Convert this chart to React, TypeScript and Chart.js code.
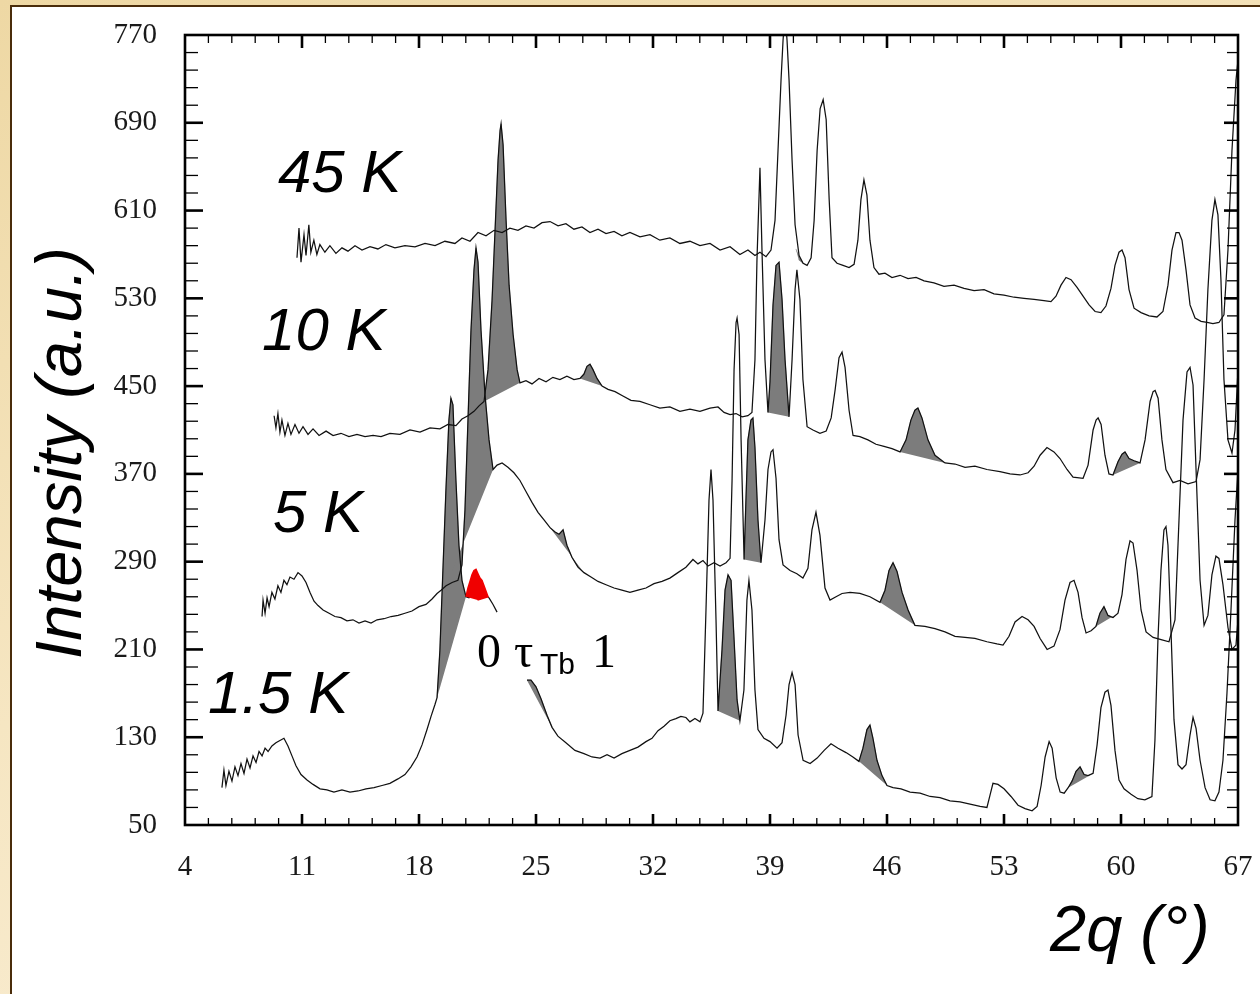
import React, { useEffect, useRef } from 'react';
import { Chart, registerables } from 'chart.js';

Chart.register(...registerables);

// ---------- axes ----------
const X_MIN = 4;
const X_MAX = 67;
const X_STEP = 7;
const Y_MIN = 50;
const Y_MAX = 770;
const Y_STEP = 80;
const MINOR_DIVISIONS = 5;

// ---------- series (2θ in degrees, intensity in a.u.) ----------
const CURVE_45K: [number, number][] = [
  [10.70,567],[10.82,594],[10.94,563],[11.12,588],[11.24,569],[11.41,597],[11.53,572],[11.71,583],[11.89,570],[12.07,579],
  [12.37,572],[12.67,578],[13.03,571],[13.39,576],[13.75,573],[14.17,578],[14.59,574],[15.07,577],[15.54,575],[16.02,579],
  [16.56,576],[17.16,578],[17.76,577],[18.36,580],[18.96,578],[19.55,582],[20.15,580],[20.57,585],[21.05,582],[21.53,590],
  [22.01,587],[22.49,592],[22.97,590],[23.44,594],[23.92,592],[24.40,596],[24.88,594],[25.36,599],[25.84,600],[26.32,596],
  [26.79,598],[27.27,593],[27.75,595],[28.23,590],[28.71,593],[29.19,589],[29.67,591],[30.14,587],[30.62,590],[31.22,586],
  [31.82,588],[32.41,583],[33.01,585],[33.61,580],[34.21,582],[34.81,578],[35.41,580],[36.01,574],[36.61,577],[37.20,570],
  [37.68,574],[38.10,569],[38.40,572],[38.76,568],[39.06,574],[39.30,601],[39.48,665],[39.66,729],[39.78,765],[39.90,790],
  [40.02,765],[40.14,729],[40.32,656],[40.50,597],[40.74,569],[40.98,562],[41.22,560],[41.46,567],[41.64,601],[41.82,665],
  [42.00,703],[42.18,711],[42.36,693],[42.54,620],[42.71,567],[43.01,562],[43.37,560],[43.73,558],[44.03,561],[44.26,583],
  [44.44,620],[44.62,638],[44.80,624],[44.98,583],[45.22,558],[45.52,552],[45.88,553],[46.30,549],[46.78,551],[47.26,548],
  [47.74,549],[48.22,546],[48.81,544],[49.41,541],[50.01,542],[50.61,539],[51.21,537],[51.81,538],[52.40,534],[53.00,533],
  [53.60,531],[54.20,530],[54.80,529],[55.39,528],[55.81,527],[56.11,532],[56.41,542],[56.71,549],[57.01,547],[57.37,540],
  [57.73,532],[58.09,524],[58.45,518],[58.80,517],[59.10,523],[59.40,539],[59.64,560],[59.88,572],[60.06,574],[60.24,567],
  [60.48,538],[60.78,521],[61.20,517],[61.68,514],[62.15,513],[62.51,518],[62.81,542],[63.05,574],[63.29,590],[63.47,590],
  [63.65,583],[63.89,556],[64.13,524],[64.43,512],[64.79,509],[65.15,508],[65.50,507],[65.86,508],[66.16,515],[66.40,574],
  [66.64,665],[66.88,729],[67.00,747],
];

const CURVE_10K: [number, number][] = [
  [9.33,423],[9.44,412],[9.56,425],[9.68,408],[9.80,419],[9.98,405],[10.16,416],[10.34,406],[10.58,415],[10.82,407],
  [11.06,413],[11.36,406],[11.66,411],[12.02,405],[12.44,409],[12.86,405],[13.33,407],[13.81,404],[14.29,406],[14.77,404],
  [15.25,405],[15.73,404],[16.26,407],[16.86,406],[17.46,410],[18.06,408],[18.66,412],[19.25,411],[19.73,415],[20.21,414],
  [20.57,420],[20.93,423],[21.29,427],[21.59,432],[21.89,436],[22.13,465],[22.37,528],[22.55,592],[22.73,656],[22.85,683],
  [22.91,689],[23.03,670],[23.21,601],[23.39,542],[23.63,497],[23.87,465],[24.04,453],[24.40,455],[24.76,452],[25.18,457],
  [25.60,454],[26.01,458],[26.43,456],[26.85,459],[27.27,456],[27.63,457],[27.87,461],[28.05,468],[28.23,470],[28.41,465],
  [28.65,457],[28.95,450],[29.31,447],[29.73,445],[30.20,441],[30.68,437],[31.22,436],[31.82,433],[32.41,430],[33.01,431],
  [33.61,427],[34.21,429],[34.81,427],[35.41,430],[35.89,431],[36.25,426],[36.61,424],[36.97,425],[37.33,422],[37.68,423],
  [37.92,426],[38.10,474],[38.22,565],[38.40,649],[38.52,574],[38.70,474],[38.88,426],[39.00,454],[39.18,524],[39.36,560],
  [39.54,563],[39.72,529],[39.90,474],[40.14,422],[40.32,474],[40.50,538],[40.61,556],[40.79,529],[40.97,456],[41.22,413],
  [41.57,410],[41.99,407],[42.36,409],[42.66,421],[42.90,447],[43.13,476],[43.31,481],[43.49,467],[43.73,428],[43.97,405],
  [44.38,404],[44.86,401],[45.34,397],[45.82,395],[46.30,393],[46.78,390],[47.14,401],[47.43,419],[47.67,428],[47.85,430],
  [48.09,421],[48.45,401],[48.87,387],[49.47,380],[50.07,379],[50.67,376],[51.26,377],[51.98,374],[52.76,372],[53.36,370],
  [53.96,369],[54.44,371],[54.80,377],[55.16,387],[55.57,394],[55.99,390],[56.35,384],[56.77,374],[57.13,367],[57.73,366],
  [58.03,378],[58.33,410],[58.51,419],[58.63,421],[58.81,415],[59.04,387],[59.28,370],[59.52,369],[59.82,381],[60.06,388],
  [60.24,390],[60.48,384],[60.78,382],[61.14,380],[61.44,401],[61.74,436],[61.92,445],[62.04,446],[62.22,439],[62.45,401],
  [62.69,374],[63.11,362],[63.53,364],[64.01,361],[64.49,363],[64.73,383],[64.97,456],[65.20,538],[65.44,601],[65.62,620],
  [65.80,606],[65.98,547],[66.16,456],[66.40,401],[66.64,389],[66.82,410],[67.00,465],
];

const CURVE_5K: [number, number][] = [
  [8.61,240],[8.67,255],[8.79,243],[8.91,257],[9.03,249],[9.20,262],[9.38,256],[9.56,268],[9.74,262],[9.92,273],
  [10.10,269],[10.28,276],[10.52,274],[10.76,280],[11.00,277],[11.24,271],[11.48,262],[11.72,254],[11.96,250],[12.26,246],
  [12.62,243],[12.97,240],[13.33,239],[13.69,236],[14.05,237],[14.41,234],[14.77,236],[15.13,234],[15.49,237],[15.91,238],
  [16.33,240],[16.75,241],[17.16,243],[17.58,245],[18.00,249],[18.42,251],[18.78,256],[19.08,261],[19.32,264],[19.62,268],
  [19.98,271],[20.33,273],[20.57,287],[20.75,337],[20.93,419],[21.11,501],[21.29,556],[21.41,576],[21.53,563],[21.71,501],
  [21.95,442],[22.19,401],[22.43,374],[22.67,378],[22.97,380],[23.32,376],[23.68,371],[24.04,364],[24.40,354],[24.76,344],
  [25.12,335],[25.48,328],[25.84,321],[26.14,317],[26.38,315],[26.62,319],[26.85,305],[27.15,294],[27.51,285],[27.87,280],
  [28.29,276],[28.71,272],[29.19,269],[29.67,266],[30.14,264],[30.62,262],[31.10,264],[31.58,266],[32.06,270],[32.54,272],
  [33.01,275],[33.49,280],[33.97,285],[34.39,292],[34.69,288],[34.99,291],[35.29,286],[35.65,289],[36.01,286],[36.37,289],
  [36.61,293],[36.73,364],[36.85,465],[36.97,508],[37.03,512],[37.15,497],[37.27,401],[37.45,292],[37.56,346],[37.68,401],
  [37.86,419],[37.98,421],[38.10,394],[38.28,328],[38.46,289],[38.70,328],[38.88,374],[39.06,390],[39.18,392],[39.36,366],
  [39.54,310],[39.78,287],[40.20,282],[40.61,279],[40.97,275],[41.27,284],[41.51,319],[41.75,335],[41.99,314],[42.29,266],
  [42.59,255],[42.95,258],[43.31,261],[43.79,262],[44.38,261],[44.98,258],[45.58,253],[45.88,264],[46.12,282],[46.36,289],
  [46.60,281],[46.90,262],[47.26,246],[47.67,232],[48.27,231],[48.87,229],[49.47,226],[50.07,222],[50.67,221],[51.26,220],
  [51.98,217],[52.58,215],[52.94,214],[53.30,222],[53.66,235],[54.08,240],[54.44,237],[54.80,231],[55.16,220],[55.58,210],
  [55.99,213],[56.35,228],[56.65,255],[56.95,271],[57.19,273],[57.43,262],[57.67,239],[57.91,225],[58.21,227],[58.50,231],
  [58.74,243],[58.98,249],[59.22,241],[59.52,239],[59.82,243],[60.06,260],[60.30,292],[60.54,309],[60.72,307],[60.96,282],
  [61.20,246],[61.50,226],[61.92,221],[62.40,219],[62.87,217],[63.23,237],[63.47,328],[63.71,419],[63.95,463],[64.13,467],
  [64.31,451],[64.49,374],[64.73,273],[64.97,232],[65.20,241],[65.44,278],[65.68,295],[65.86,293],[66.10,269],[66.40,230],
  [66.64,210],[66.88,214],[67.00,237],
];

// null marks the stretch hidden behind the annotation
const CURVE_1_5K: [number, number | null][] = [
  [6.21,84],[6.33,100],[6.45,86],[6.63,99],[6.81,90],[6.99,103],[7.17,95],[7.35,106],[7.53,97],[7.71,110],
  [7.89,102],[8.07,113],[8.25,107],[8.43,117],[8.61,113],[8.79,120],[8.97,117],[9.20,122],[9.44,125],[9.68,127],
  [9.92,129],[10.16,122],[10.40,113],[10.64,104],[10.94,96],[11.30,91],[11.66,87],[12.08,83],[12.49,82],[12.91,80],
  [13.39,82],[13.87,80],[14.35,81],[14.83,83],[15.31,84],[15.79,86],[16.26,88],[16.74,92],[17.16,96],[17.52,103],
  [17.88,112],[18.18,123],[18.48,137],[18.72,149],[18.96,160],[19.08,166],[19.25,209],[19.43,282],[19.61,355],[19.79,419],
  [19.91,439],[20.03,433],[20.21,364],[20.39,305],[20.57,273],[20.81,258],[20.99,257],[21.23,262],[21.47,264],[21.71,262],
  [21.95,260],[22.19,257],[22.43,251],[22.67,244],[23.50,null],[24.46,182],[24.70,182],[25.00,176],[25.30,165],[25.66,150],
  [25.96,139],[26.31,131],[26.79,125],[27.33,118],[27.87,115],[28.35,112],[28.83,111],[29.25,114],[29.67,111],[30.14,115],
  [30.62,118],[31.10,121],[31.58,126],[31.94,129],[32.30,136],[32.66,140],[33.01,145],[33.37,147],[33.67,149],[33.97,148],
  [34.21,144],[34.51,147],[34.81,144],[34.99,152],[35.17,246],[35.35,346],[35.47,374],[35.59,346],[35.77,237],[35.89,154],
  [36.13,210],[36.31,264],[36.49,278],[36.67,273],[36.85,219],[37.03,164],[37.20,145],[37.44,173],[37.62,255],[37.74,273],
  [37.92,246],[38.10,173],[38.28,137],[38.64,129],[39.00,126],[39.42,120],[39.72,125],[39.96,150],[40.14,178],[40.32,189],
  [40.50,178],[40.68,132],[40.98,109],[41.40,106],[41.82,111],[42.24,118],[42.65,124],[43.07,120],[43.55,116],[43.96,112],
  [44.32,108],[44.56,120],[44.80,137],[44.98,141],[45.16,129],[45.40,109],[45.70,95],[46.00,86],[46.36,84],[46.84,83],
  [47.38,80],[47.98,79],[48.58,76],[49.17,75],[49.77,72],[50.37,71],[50.97,69],[51.57,67],[51.98,66],[52.16,77],
  [52.34,88],[52.64,87],[53.00,83],[53.42,76],[53.84,68],[54.26,65],[54.68,63],[54.98,67],[55.22,86],[55.46,112],
  [55.70,126],[55.88,120],[56.12,93],[56.36,80],[56.60,79],[56.84,84],[57.07,90],[57.31,99],[57.55,103],[57.79,96],
  [58.03,95],[58.33,97],[58.57,123],[58.80,157],[59.04,171],[59.22,173],[59.40,159],[59.64,118],[59.88,91],[60.18,83],
  [60.60,78],[61.01,74],[61.43,73],[61.85,76],[62.03,127],[62.21,219],[62.39,282],[62.57,319],[62.69,322],[62.81,305],
  [62.99,228],[63.17,146],[63.41,105],[63.65,101],[63.89,105],[64.13,132],[64.31,148],[64.49,138],[64.73,109],[65.03,84],
  [65.33,73],[65.62,72],[65.86,80],[66.10,109],[66.34,170],[66.58,246],[66.82,328],[67.00,374],
];

// grey-shaded peak areas (peak profile closed by a straight base line)
const SHADED_PEAKS: [number, number][][] = [
  // 10 K
  [[21.89,436],[22.13,465],[22.37,528],[22.55,592],[22.73,656],[22.85,683],[22.91,689],[23.03,670],[23.21,601],[23.39,542],[23.63,497],[23.87,465],[24.04,453]],
  [[27.63,457],[27.87,461],[28.05,468],[28.23,470],[28.41,465],[28.65,457],[28.95,450]],
  [[38.88,426],[39.00,454],[39.18,524],[39.36,560],[39.54,563],[39.72,529],[39.90,474],[40.14,422]],
  [[46.78,390],[47.14,401],[47.43,419],[47.67,428],[47.85,430],[48.09,421],[48.45,401],[48.87,387],[49.47,380]],
  [[59.52,369],[59.82,381],[60.06,388],[60.24,390],[60.48,384],[60.78,382],[61.14,380]],
  // 5 K
  [[19.62,268],[19.98,271],[20.33,273],[20.57,287],[20.75,337],[20.93,419],[21.11,501],[21.29,556],[21.41,576],[21.53,563],[21.71,501],[21.95,442],[22.19,401],[22.43,374]],
  [[25.84,321],[26.14,317],[26.38,315],[26.62,319],[26.85,305],[27.15,294],[27.51,285],[27.87,280]],
  [[37.45,292],[37.56,346],[37.68,401],[37.86,419],[37.98,421],[38.10,394],[38.28,328],[38.46,289]],
  [[45.58,253],[45.88,264],[46.12,282],[46.36,289],[46.60,281],[46.90,262],[47.26,246],[47.67,232]],
  [[58.50,231],[58.74,243],[58.98,249],[59.22,241],[59.52,239],[59.82,243]],
  // 1.5 K
  [[19.08,166],[19.25,209],[19.43,282],[19.61,355],[19.79,419],[19.91,439],[20.03,433],[20.21,364],[20.39,305],[20.57,273],[20.81,258]],
  [[24.46,182],[24.70,182],[25.00,176],[25.30,165],[25.66,150],[25.96,139]],
  [[35.89,154],[36.13,210],[36.31,264],[36.49,278],[36.67,273],[36.85,219],[37.03,164],[37.20,145]],
  [[44.32,108],[44.56,120],[44.80,137],[44.98,141],[45.16,129],[45.40,109],[45.70,95],[46.00,86]],
  [[56.84,84],[57.07,90],[57.31,99],[57.55,103],[57.79,96],[58.03,95],[58.33,97]],
  // 45 K
  [[40.55,575],[40.80,566],[40.98,562],[40.72,565]],
];

const RED_SPOT: [number, number][] = [
  [20.81,258],[20.93,266],[21.05,272],[21.17,278],[21.29,282],[21.41,283],[21.53,279],[21.65,275],
  [21.77,273],[21.89,268],[22.01,263],[22.13,258],[21.50,255],
];

// temperature labels: [text, 2θ, intensity] anchors (left / baseline)
const TEMP_LABELS: [string, number, number][] = [
  ['45 K', 9.56, 627],
  ['10 K', 8.61, 483],
  ['5 K', 9.27, 317],
  ['1.5 K', 5.38, 152],
];

const X_TITLE = '2q (°)';
const Y_TITLE = 'Intensity (a.u.)';

const toXY = (arr: [number, number | null][]) => arr.map(([x, y]) => ({ x, y }));

const SERIF = '"Liberation Serif", "Times New Roman", serif';
const SANS = '"Liberation Sans", Arial, sans-serif';

const decorPlugin = {
  id: 'decor',
  afterDatasetsDraw(chart: any) {
    const { ctx, chartArea: a, scales } = chart;
    const xs = scales.x;
    const ys = scales.y;
    ctx.save();
    ctx.strokeStyle = '#000';
    ctx.lineCap = 'butt';
    const line = (x1: number, y1: number, x2: number, y2: number, w: number) => {
      ctx.lineWidth = w;
      ctx.beginPath();
      ctx.moveTo(x1, y1);
      ctx.lineTo(x2, y2);
      ctx.stroke();
    };
    const xMinor = X_STEP / MINOR_DIVISIONS;
    const nx = Math.round((X_MAX - X_MIN) / xMinor);
    for (let k = 1; k < nx; k++) {
      const px = xs.getPixelForValue(X_MIN + k * xMinor);
      const major = k % MINOR_DIVISIONS === 0;
      line(px, a.bottom, px, a.bottom - (major ? 11 : 7), major ? 2.6 : 1.3);
      line(px, a.top, px, a.top + (major ? 13 : 8), major ? 2.6 : 1.3);
    }
    const yMinor = Y_STEP / MINOR_DIVISIONS;
    const ny = Math.round((Y_MAX - Y_MIN) / yMinor);
    for (let k = 1; k < ny; k++) {
      const py = ys.getPixelForValue(Y_MIN + k * yMinor);
      const major = k % MINOR_DIVISIONS === 0;
      line(a.left, py, a.left + (major ? 18 : 13), py, major ? 2.6 : 1.3);
      line(a.right, py, a.right - (major ? 14 : 11), py, major ? 2.6 : 1.3);
    }
    ctx.lineWidth = 2.6;
    ctx.strokeRect(a.left, a.top, a.right - a.left, a.bottom - a.top);

    // temperature labels
    ctx.fillStyle = '#000';
    ctx.textAlign = 'left';
    ctx.textBaseline = 'alphabetic';
    ctx.font = `italic 60px ${SANS}`;
    for (const [t, x, y] of TEMP_LABELS) {
      ctx.fillText(t, xs.getPixelForValue(x), ys.getPixelForValue(y));
    }

    // annotation "0 τTb 1"
    const by = ys.getPixelForValue(194);
    ctx.font = `48px ${SERIF}`;
    ctx.fillText('0', xs.getPixelForValue(21.47), by);
    ctx.fillText('τ', xs.getPixelForValue(23.68), by);
    ctx.fillText('1', xs.getPixelForValue(28.35), by);
    ctx.font = `30px ${SANS}`;
    ctx.fillText('Tb', xs.getPixelForValue(25.24), ys.getPixelForValue(187.5));

    // axis titles
    ctx.font = `italic 65px ${SANS}`;
    ctx.fillText(X_TITLE, a.right - 188, a.bottom + 126);
    ctx.save();
    ctx.translate(a.left - 104, (a.top + a.bottom) / 2 + 23);
    ctx.rotate(-Math.PI / 2);
    ctx.textAlign = 'center';
    ctx.fillText(Y_TITLE, 0, 0);
    ctx.restore();

    ctx.restore();
  },
};

export default function App() {
  const ref = useRef<HTMLCanvasElement | null>(null);

  useEffect(() => {
    if (!ref.current) return;
    const curve = (data: [number, number | null][]) => ({
      data: toXY(data),
      borderColor: '#111',
      borderWidth: 1.25,
      pointRadius: 0,
      fill: false,
      tension: 0,
      spanGaps: false,
      order: 0,
    });
    const datasets: any[] = [
      curve(CURVE_45K),
      curve(CURVE_10K),
      curve(CURVE_5K),
      curve(CURVE_1_5K),
      {
        data: toXY(RED_SPOT),
        borderColor: '#f00000',
        backgroundColor: '#f00000',
        borderWidth: 1.5,
        pointRadius: 0,
        fill: 'shape',
        order: -1,
      },
      ...SHADED_PEAKS.map((p) => ({
        data: toXY(p),
        borderColor: '#7c7c7c',
        backgroundColor: '#7c7c7c',
        borderWidth: 0.6,
        pointRadius: 0,
        fill: 'shape',
        order: 1,
      })),
    ];

    const chart = new Chart(ref.current, {
      type: 'line',
      data: { datasets },
      options: {
        animation: false,
        responsive: false,
        maintainAspectRatio: false,
        events: [],
        layout: { padding: { left: 0, top: 35, right: 22, bottom: 0 } },
        plugins: { legend: { display: false }, tooltip: { enabled: false } },
        scales: {
          x: {
            type: 'linear',
            min: X_MIN,
            max: X_MAX,
            grid: { display: false, drawTicks: true, tickLength: 25 },
            border: { display: false },
            ticks: {
              stepSize: X_STEP,
              padding: 0,
              color: '#1a1a1a',
              font: { family: SERIF, size: 29 },
              maxRotation: 0,
              autoSkip: false,
            },
            afterFit: (s: any) => { s.height = 169; },
          },
          y: {
            type: 'linear',
            min: Y_MIN,
            max: Y_MAX,
            grid: { display: false, drawTicks: true, tickLength: 28 },
            border: { display: false },
            ticks: {
              stepSize: Y_STEP,
              padding: 0,
              color: '#1a1a1a',
              font: { family: SERIF, size: 29 },
              autoSkip: false,
            },
            afterFit: (s: any) => { s.width = 185; },
          },
        },
      } as any,
      plugins: [decorPlugin],
    });
    return () => chart.destroy();
  }, []);

  return (
    <div
      style={{
        position: 'fixed',
        left: 0,
        top: 0,
        width: 1260,
        height: 994,
        overflow: 'hidden',
        background: 'linear-gradient(160deg, #eed8a4 0%, #f6e6c2 50%, #faf0da 100%)',
      }}
    >
      <div
        style={{
          position: 'absolute',
          left: 10,
          top: 5,
          width: 1270,
          height: 1010,
          background: '#fff',
          borderLeft: '2px solid #4a2c0a',
          borderTop: '2px solid #4a2c0a',
        }}
      />
      <canvas ref={ref} width={1260} height={994} style={{ position: 'absolute', left: 0, top: 0 }} />
    </div>
  );
}
